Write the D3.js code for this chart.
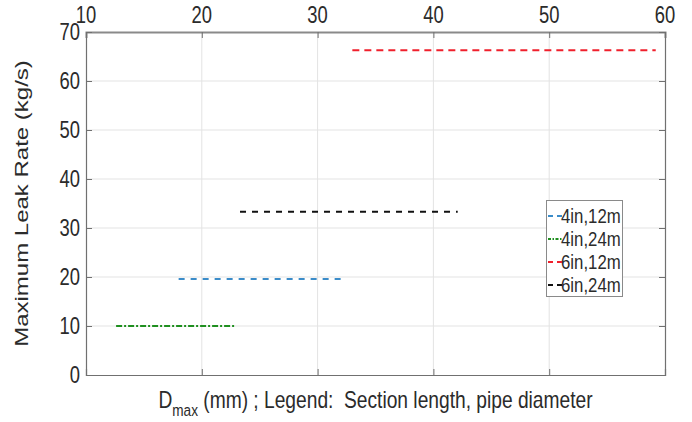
<!DOCTYPE html>
<html>
<head>
<meta charset="utf-8">
<script src="https://cdn.jsdelivr.net/npm/d3@7/dist/d3.min.js"></script>
<style>
  html, body { margin: 0; padding: 0; background: #fff; }
  svg { display: block; font-family: "Liberation Sans", Arial, sans-serif; }
  svg text { white-space: pre; }
</style>
</head>
<body>
<svg id="chart" width="692" height="422"></svg>
<script>
// Maximum leak rate per pipe section: each configuration spans a range of D_max
const seriesNames = ["4in,12m", "4in,24m", "6in,12m", "6in,24m"];
const dmaxStart   = [18.0, 12.6, 33.0, 23.3];   // mm
const dmaxEnd     = [32.4, 22.9, 59.2, 42.1];   // mm
const leakRate    = [19.6, 10.0, 66.3, 33.3];   // kg/s
const seriesColors = ["#3b8cc9", "#1f8f1f", "#f0202c", "#111111"];
const seriesDashes = ["6,6", "6,2,2,2", "7,5", "6,6"];

const xTicks = [10, 20, 30, 40, 50, 60];
const yTicks = [0, 10, 20, 30, 40, 50, 60, 70];

const margin = { left: 86, right: 665, top: 32, bottom: 375 };
const sx = 0.8; // horizontal glyph compression

const svg = d3.select("#chart");

const x = d3.scaleLinear().domain([10, 60]).range([margin.left, margin.right]);
const y = d3.scaleLinear().domain([0, 70]).range([margin.bottom, margin.top]);

// grid
const grid = svg.append("g");
grid.selectAll(".gx").data(xTicks.slice(1, -1)).enter().append("line")
  .attr("x1", d => x(d)).attr("x2", d => x(d))
  .attr("y1", margin.top).attr("y2", margin.bottom)
  .attr("stroke", "#e3e3e3").attr("stroke-width", 1);
grid.selectAll(".gy").data(yTicks.slice(1, -1)).enter().append("line")
  .attr("x1", margin.left).attr("x2", margin.right)
  .attr("y1", d => y(d)).attr("y2", d => y(d))
  .attr("stroke", "#e3e3e3").attr("stroke-width", 1);

// axes (ticks pointing inward)
const tickLen = 6;
const axisColor = "#707070";

const topAxis = svg.append("g").attr("transform", `translate(0,${margin.top})`)
  .call(d3.axisTop(x).tickValues(xTicks).tickSize(-tickLen).tickFormat(""));
const bottomAxis = svg.append("g").attr("transform", `translate(0,${margin.bottom})`)
  .call(d3.axisBottom(x).tickValues(xTicks).tickSize(-tickLen).tickFormat(""));
const leftAxis = svg.append("g").attr("transform", `translate(${margin.left},0)`)
  .call(d3.axisLeft(y).tickValues(yTicks).tickSize(-tickLen).tickFormat(""));
const rightAxis = svg.append("g").attr("transform", `translate(${margin.right},0)`)
  .call(d3.axisRight(y).tickValues(yTicks).tickSize(-tickLen).tickFormat(""));

[topAxis, bottomAxis, leftAxis, rightAxis].forEach(g => {
  g.select(".domain").attr("stroke", axisColor).attr("stroke-width", 1.2);
  g.selectAll(".tick line").attr("stroke", axisColor).attr("stroke-width", 1);
});
topAxis.select(".domain").attr("stroke", "#8a8a8a").attr("stroke-width", 2);

// tick labels
svg.append("g").selectAll("text").data(xTicks).enter().append("text")
  .attr("transform", d => `translate(${x(d)},23) scale(${sx},1)`)
  .attr("text-anchor", "middle")
  .attr("font-size", 23).attr("fill", "#2b2b2b")
  .text(d => d);

svg.append("g").selectAll("text").data(yTicks).enter().append("text")
  .attr("transform", d => `translate(80,${y(d) + 8}) scale(${sx},1)`)
  .attr("text-anchor", "end")
  .attr("font-size", 23).attr("fill", "#2b2b2b")
  .text(d => d);

// axis titles
svg.append("text")
  .attr("transform", `translate(28,${(margin.top + margin.bottom) / 2}) scale(${sx},1) rotate(-90)`)
  .attr("text-anchor", "middle")
  .attr("font-size", 24).attr("fill", "#2b2b2b")
  .text("Maximum Leak Rate (kg/s)");

const xTitle = svg.append("text")
  .attr("transform", `translate(${(margin.left + margin.right) / 2},408) scale(${sx},1)`)
  .attr("text-anchor", "middle")
  .attr("font-size", 24).attr("fill", "#2b2b2b");
xTitle.append("tspan").text("D");
xTitle.append("tspan").attr("font-size", 17).attr("dy", 8).text("max");
xTitle.append("tspan").attr("dy", -8).text(" (mm) ; Legend:  Section length, pipe diameter");

// series
const line = d3.line().x(d => x(d[0])).y(d => y(d[1]));
const data = seriesNames.map((name, i) => ({
  name, color: seriesColors[i], dash: seriesDashes[i],
  pts: [[dmaxStart[i], leakRate[i]], [dmaxEnd[i], leakRate[i]]]
}));

svg.append("g").selectAll("path").data(data).enter().append("path")
  .attr("d", d => line(d.pts))
  .attr("fill", "none")
  .attr("stroke", d => d.color)
  .attr("stroke-width", 2)
  .attr("stroke-dasharray", d => d.dash);

// legend
const lg = svg.append("g");
lg.append("rect")
  .attr("x", 546.5).attr("y", 200.5).attr("width", 76).attr("height", 96)
  .attr("fill", "#fff").attr("stroke", "#8a8a8a").attr("stroke-width", 1);

const rowY = [216, 239, 262, 285];
const legendDash = ["5,4", "3,1.5,1.5,1.5", "5,4", "5,4"];
const rows = lg.selectAll(".row").data(data).enter().append("g");
rows.append("line")
  .attr("x1", 548).attr("x2", 562)
  .attr("y1", (d, i) => rowY[i]).attr("y2", (d, i) => rowY[i])
  .attr("stroke", d => d.color).attr("stroke-width", 2)
  .attr("stroke-dasharray", (d, i) => legendDash[i]);
rows.append("text")
  .attr("transform", (d, i) => `translate(561,${rowY[i] + 7}) scale(0.84,1)`)
  .attr("font-size", 20).attr("fill", "#2b2b2b")
  .text(d => d.name);
</script>
</body>
</html>
